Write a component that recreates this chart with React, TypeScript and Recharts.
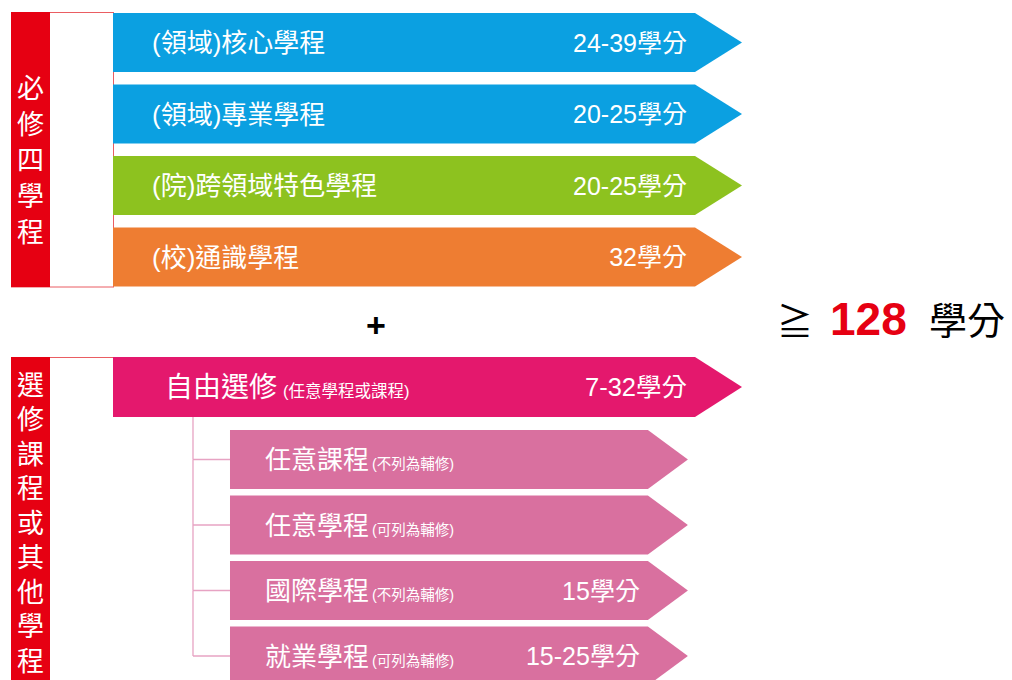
import React from 'react';
import { BarChart, Bar, XAxis, YAxis } from 'recharts';

// ---------- data ----------
const requiredNames = ['(領域)核心學程', '(領域)專業學程', '(院)跨領域特色學程', '(校)通識學程'];
const requiredCredits = ['24-39學分', '20-25學分', '20-25學分', '32學分'];

const electiveNames = ['自由選修'];
const electiveNotes = ['(任意學程或課程)'];
const electiveCredits = ['7-32學分'];

const optionNames = ['任意課程', '任意學程', '國際學程', '就業學程'];
const optionNotes = ['(不列為輔修)', '(可列為輔修)', '(不列為輔修)', '(可列為輔修)'];
const optionCredits = ['', '', '15學分', '15-25學分'];

const groupLabels = ['必修四學程', '選修課程或其他學程'];
const totalCredits = 128;
const creditUnit = '學分';

// ---------- styles ----------
const FONT = "'Liberation Sans', 'Noto Sans CJK TC', sans-serif";
const CJK = "'Noto Sans CJK TC', sans-serif";
const REQUIRED_COLORS = ['#0ba0e1', '#0ba0e1', '#8dc21f', '#ee7d32'];
const ELECTIVE_COLOR = '#e4186d';
const OPTION_COLOR = '#d9709f';
const RED = '#e60012';
const OUTLINE = '#ea5d62';
const TREE = '#e7a3c3';

// level spans on the shared 0-100 horizontal scale
const MAIN_SPAN: [number, number] = [0, 100];
const SUB_SPAN: [number, number] = [18.6, 91.4];

const requiredRows = requiredNames.map((name, i) => ({
  name,
  note: '',
  credit: requiredCredits[i],
  span: MAIN_SPAN,
}));
const electiveRows = electiveNames.map((name, i) => ({
  name,
  note: electiveNotes[i],
  credit: electiveCredits[i],
  span: MAIN_SPAN,
}));
const optionRows = optionNames.map((name, i) => ({
  name,
  note: optionNotes[i],
  credit: optionCredits[i],
  span: SUB_SPAN,
}));

type ArrowOpts = {
  colors: string[];
  head: number;
  nameSize: number;
  noteSize: number;
  noteGap: number;
  valueSize: number;
  nameOffset: number;
  tree?: { dx: number; step: number; firstUp: number };
};

const makeArrow = (o: ArrowOpts) => (props: any) => {
  const { x, y, width, height, payload, index } = props;
  if (width == null || height == null) return null;
  const cy = y + height / 2;
  const bodyEnd = x + width - o.head;
  const pts = [
    [x, y],
    [bodyEnd, y],
    [x + width, cy],
    [bodyEnd, y + height],
    [x, y + height],
  ]
    .map((p) => p.join(','))
    .join(' ');
  const fill = o.colors[index % o.colors.length];
  return (
    <g>
      {o.tree && (
        <g stroke={TREE} strokeWidth={1.3} fill="none">
          <line x1={x - o.tree.dx} y1={cy} x2={x} y2={cy} />
          <line
            x1={x - o.tree.dx}
            y1={cy}
            x2={x - o.tree.dx}
            y2={index === 0 ? y - o.tree.firstUp : cy - o.tree.step}
          />
        </g>
      )}
      <polygon points={pts} fill={fill} />
      <text
        x={x + o.nameOffset}
        y={cy + 0.37 * o.nameSize}
        fill="#fff"
        fontSize={o.nameSize}
        fontFamily={FONT}
      >
        {payload.name}
        {payload.note ? (
          <tspan fontSize={o.noteSize} dx={o.noteGap}>
            {payload.note}
          </tspan>
        ) : null}
      </text>
      {payload.credit ? (
        <text
          x={bodyEnd - 8}
          y={cy + 0.37 * o.valueSize}
          fill="#fff"
          fontSize={o.valueSize}
          fontFamily={FONT}
          textAnchor="end"
        >
          {payload.credit}
        </text>
      ) : null}
    </g>
  );
};

const W = 1012;
const LEFT = 113;
const RIGHT = W - 742;

const requiredShape = makeArrow({
  colors: REQUIRED_COLORS,
  head: 47,
  nameSize: 26,
  noteSize: 14,
  noteGap: 4,
  valueSize: 25,
  nameOffset: 39,
});
const electiveShape = makeArrow({
  colors: [ELECTIVE_COLOR],
  head: 47,
  nameSize: 28,
  noteSize: 16.5,
  noteGap: 6,
  valueSize: 25.5,
  nameOffset: 52,
});
const OPT_TOP_MARGIN = 10;
const OPT_PLOT_H = 262;
const optionShape = makeArrow({
  colors: [OPTION_COLOR],
  head: 40,
  nameSize: 26,
  noteSize: 14.5,
  noteGap: 3,
  valueSize: 25,
  nameOffset: 35,
  tree: { dx: 37, step: OPT_PLOT_H / optionNames.length, firstUp: 13 },
});

const Row = ({
  data,
  top,
  height,
  marginTop,
  barSize,
  shape,
}: {
  data: any[];
  top: number;
  height: number;
  marginTop: number;
  barSize: number;
  shape: any;
}) => (
  <div style={{ position: 'absolute', left: 0, top }}>
    <BarChart
      width={W}
      height={height}
      data={data}
      layout="vertical"
      margin={{ top: marginTop, right: RIGHT, bottom: 0, left: LEFT }}
    >
      <XAxis type="number" domain={[0, 100]} hide />
      <YAxis type="category" dataKey="name" hide />
      <Bar dataKey="span" barSize={barSize} shape={shape} isAnimationActive={false} />
    </BarChart>
  </div>
);

const VerticalLabel = ({
  text,
  firstCenter,
  step,
  size,
}: {
  text: string;
  firstCenter: number;
  step: number;
  size: number;
}) => (
  <div
    style={{
      position: 'absolute',
      left: 11,
      width: 39,
      top: firstCenter - size / 2,
      display: 'flex',
      justifyContent: 'center',
    }}
  >
    <div
      style={{
        writingMode: 'vertical-rl',
        textOrientation: 'upright',
        fontFamily: CJK,
        fontSize: size,
        lineHeight: '39px',
        letterSpacing: step - size,
        color: '#fff',
        whiteSpace: 'nowrap',
      }}
    >
      {text}
    </div>
  </div>
);

export default function App() {
  return (
    <div
      style={{
        position: 'relative',
        width: W,
        height: 680,
        overflow: 'hidden',
        background: '#fff',
      }}
    >
      <style>{'body{margin:0;}'}</style>
      <svg
        width={W}
        height={680}
        style={{ position: 'absolute', left: 0, top: 0 }}
      >
        {/* required group frame */}
        <rect x={11.5} y={12.5} width={102} height={274.5} fill="none" stroke={OUTLINE} strokeWidth={1} />
        <rect x={11} y={12} width={39} height={275} fill={RED} />
        {/* elective group frame */}
        <line x1={11} y1={357.5} x2={114} y2={357.5} stroke={OUTLINE} strokeWidth={1} />
        <rect x={11} y={357} width={39} height={330} fill={RED} />
        {/* plus */}
        <text x={376} y={337} fontSize={34} fontWeight="bold" fontFamily={FONT} textAnchor="middle" fill="#000">
          +
        </text>
        {/* total */}
        <text x={777} y={335} fontSize={36} fontFamily={CJK} fill="#000">
          ≧
        </text>
        <text x={830} y={335} fontSize={46} fontWeight="bold" fontFamily={FONT} fill={RED}>
          {totalCredits}
        </text>
        <text x={929} y={334} fontSize={38} fontFamily={CJK} fill="#000">
          {creditUnit}
        </text>
      </svg>
      <VerticalLabel text={groupLabels[0]} firstCenter={87} step={36} size={27} />
      <VerticalLabel text={groupLabels[1]} firstCenter={384} step={34.5} size={27} />
      <Row data={requiredRows} top={0} height={293} marginTop={7} barSize={59} shape={requiredShape} />
      <Row data={electiveRows} top={356} height={62} marginTop={0} barSize={60} shape={electiveShape} />
      <Row
        data={optionRows}
        top={417}
        height={OPT_TOP_MARGIN + OPT_PLOT_H}
        marginTop={OPT_TOP_MARGIN}
        barSize={59}
        shape={optionShape}
      />
    </div>
  );
}
